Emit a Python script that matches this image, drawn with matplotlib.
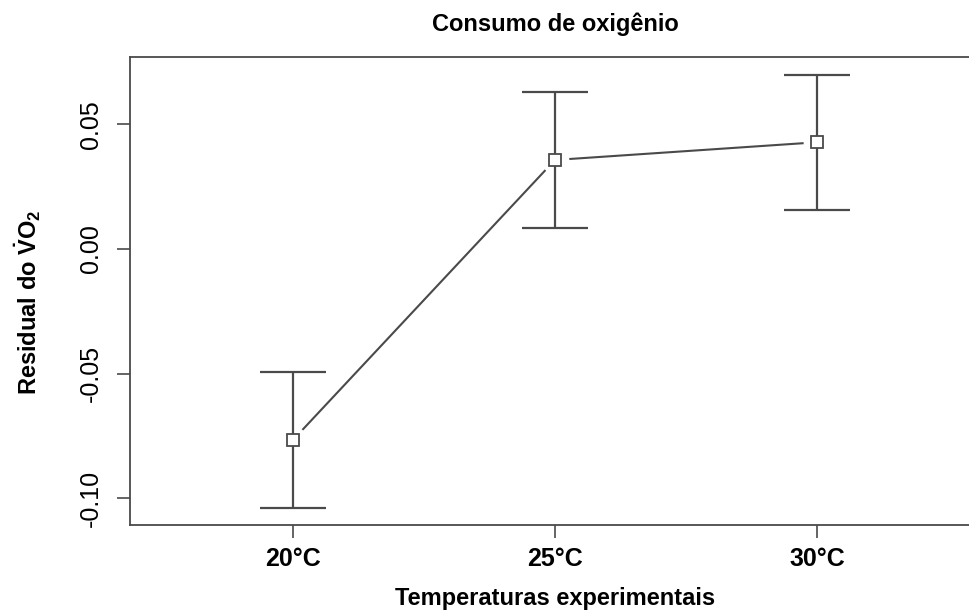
import matplotlib
matplotlib.use("Agg")
import matplotlib.pyplot as plt

plt.rcParams['font.family'] = ['Liberation Sans', 'DejaVu Sans']
plt.rcParams['mathtext.fontset'] = 'custom'
plt.rcParams['mathtext.rm'] = 'Liberation Sans'
plt.rcParams['mathtext.bf'] = 'Liberation Sans:bold'

TEMPS = ["20°C", "25°C", "30°C"]
MEANS = [-0.0766, 0.0357, 0.0428]
ERR = [0.0271, 0.0273, 0.0271]
YTICKS = [-0.10, -0.05, 0.00, 0.05]

INK = "#4a4a4a"


def main():
    fig = plt.figure(figsize=(9.69, 6.13), dpi=100)
    ax = fig.add_axes([0.1342, 0.1436, 0.877, 0.7634])
    x = list(range(1, len(TEMPS) + 1))

    # connecting line, with white gaps around the points (R type="b")
    ax.plot(x, MEANS, color=INK, lw=1.5, zorder=1)
    ax.plot(x, MEANS, ls='none', marker='o', ms=20, mfc='white', mec='none', zorder=2)
    ax.errorbar(x, MEANS, yerr=ERR, fmt='none', ecolor=INK, elinewidth=1.6,
                capsize=24, capthick=1.6, zorder=3)
    ax.plot(x, MEANS, ls='none', marker='s', ms=8, mfc='white', mec=INK, mew=1.3, zorder=4)

    ax.set_xlim(0.378, 3.622)
    ax.set_ylim(-0.1107, 0.077)
    ax.set_xticks(x)
    ax.set_xticklabels(TEMPS, fontsize=18, fontweight='bold')
    ax.set_yticks(YTICKS)
    ax.set_yticklabels(["%.2f" % v for v in YTICKS], rotation=90, va='center', fontsize=18)
    ax.tick_params(direction='out', length=9.5, width=1.2, color=INK)
    ax.tick_params(axis='x', pad=6)
    ax.tick_params(axis='y', pad=10)
    for s in ax.spines.values():
        s.set_color(INK)
        s.set_linewidth(1.3)

    ax.set_title("Consumo de oxigênio", fontsize=17, fontweight='bold', pad=19)
    ax.set_xlabel("Temperaturas experimentais", fontsize=17, fontweight='bold', labelpad=12)
    ax.set_ylabel(r"Residual do $\mathbf{\dot{V}O_2}$", fontsize=17, fontweight='bold')
    ax.yaxis.set_label_coords(-0.102, 0.476)

    fig.savefig("out.png", dpi=100)
    plt.close(fig)


if __name__ == '__main__':
    main()
